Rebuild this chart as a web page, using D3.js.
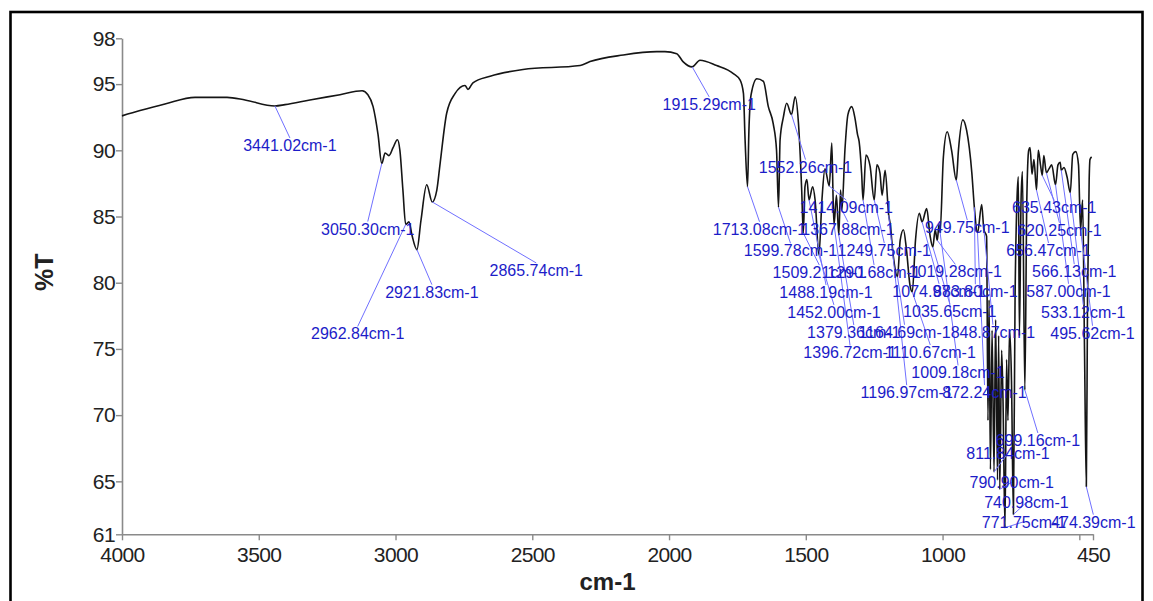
<!DOCTYPE html>
<html>
<head>
<meta charset="utf-8">
<script src="https://cdn.jsdelivr.net/npm/d3@7"></script>
<style>
  body { margin: 0; background: #fff; }
  svg { display: block; font-family: "Liberation Sans", Arial, sans-serif; }
  .tick text { fill: #222; font-size: 21px; letter-spacing: -0.6px; }
  .peak-label { fill: #1c1cc8; font-size: 16px; }
</style>
</head>
<body>
<div id="canvas"></div>
<script>
// spectrum (wavenumber cm-1 / %T)
const wavenumbers = [4000, 3934, 3843, 3733, 3616, 3550, 3441.02, 3404, 3313, 3203, 3122, 3101, 3082, 3064,
  3050.30, 3038, 3024, 3009, 2993, 2984, 2973, 2962.84, 2951, 2940, 2921.83, 2907, 2886, 2865.74, 2849, 2837,
  2813, 2782, 2746, 2735, 2717, 2654, 2534, 2325, 2289, 2167, 2045, 2015, 1972, 1949, 1915.29, 1887, 1826,
  1765, 1740, 1728, 1722, 1713.08, 1708, 1700, 1679, 1655, 1637, 1619, 1607, 1599.78, 1594, 1582, 1570,
  1552.26, 1539, 1527, 1515, 1509.21, 1503, 1496, 1488.19, 1475, 1466, 1452.00, 1441, 1430, 1414.09, 1405,
  1400, 1396.72, 1388, 1379.36, 1373, 1367.88, 1357, 1346, 1332, 1320, 1311, 1305, 1296, 1290.68, 1280, 1265,
  1249.75, 1240, 1229, 1221, 1210, 1196.97, 1192, 1180, 1164.69, 1155, 1143, 1132, 1119, 1110.67, 1099, 1085,
  1074.97, 1058, 1046, 1035.65, 1027, 1019.28, 1013, 1009.18, 997, 983, 967, 949.75, 942, 926, 912, 893,
  883.80, 872.24, 857, 848.87, 839, 834, 830, 825, 819, 811.84, 806, 799, 795, 790.90, 784, 779, 771.75, 766,
  761, 755, 748, 740.98, 735, 728, 723, 719, 713, 708, 699.16, 692, 685, 680, 673, 666, 656.47, 650, 642,
  635.43, 630, 620.25, 611, 601, 587.00, 578, 570, 566.13, 556, 545, 533.12, 524, 513, 503, 495.62, 488, 481,
  474.39, 470, 464, 461, 455];
const transmittance = [92.6, 93.0, 93.5, 94.0, 94.0, 93.8, 93.35, 93.45, 93.8, 94.2, 94.5, 94.2, 93.3, 91.2,
  89.0, 89.8, 89.6, 90.2, 90.8, 90.0, 87.0, 84.4, 84.6, 83.6, 82.5, 84.7, 87.4, 86.1, 87.0, 89.0,
  92.8, 94.3, 94.9, 94.6, 95.1, 95.6, 96.1, 96.4, 96.7, 97.2, 97.45, 97.45, 97.3, 96.7, 96.3, 96.8, 96.4,
  95.8, 95.3, 94.3, 90.8, 87.25, 91.5, 94.2, 95.4, 95.2, 93.3, 92.0, 90.0, 85.7, 90.8, 92.5, 93.55,
  92.7, 94.05, 92.1, 87.0, 83.75, 87.25, 87.8, 86.25, 87.25, 86.25, 82.1, 86.25, 88.6, 87.3, 90.55,
  86.25, 84.4, 86.6, 83.6, 87.0, 85.5, 90.0, 92.7, 93.3, 92.4, 91.2, 90.65, 88.3, 86.25, 89.65, 88.8,
  86.25, 88.9, 88.3, 86.6, 88.5, 85.1, 84.5, 82.0, 80.45, 83.2, 84.0, 82.5, 79.8, 79.3, 83.2, 85.25,
  84.6, 85.6, 83.6, 82.7, 84.0, 83.2, 84.4, 83.8, 89.5, 91.4, 90.0, 87.75, 90.0, 92.3, 91.5, 88.3,
  85.7, 83.75, 85.9, 84.0, 83.5, 69.6, 78.7, 65.9, 76.4, 65.7, 77.2, 65.1, 76.0, 64.4, 74.9, 71.1, 61.5, 74.2,
  69.6, 76.4, 72.6, 62.5, 78.7, 86.25, 88.0, 76.0, 86.25, 88.4, 71.9, 86.25, 90.0, 90.2, 88.2, 89.3, 87.0, 90.0, 88.9,
  88.1, 89.6, 88.3, 88.6, 88.9, 87.4, 88.9, 89.1, 88.5, 88.7, 88.0, 86.8, 89.7, 89.9, 88.9, 84.0, 86.25, 74.9,
  64.6, 78.7, 87.8, 89.3, 89.5];

// labelled peaks
const peakWavenumbers = [3441.02, 3050.30, 2962.84, 2921.83, 2865.74, 1915.29, 1713.08, 1599.78, 1552.26,
  1509.21, 1488.19, 1452.00, 1414.09, 1396.72, 1379.36, 1367.88, 1290.68, 1249.75, 1196.97, 1164.69,
  1110.67, 1074.97, 1035.65, 1019.28, 1009.18, 949.75, 883.80, 872.24, 848.87, 811.84, 790.90, 771.75,
  740.98, 699.16, 656.47, 635.43, 620.25, 587.00, 566.13, 533.12, 495.62, 474.39];

// label placement relative to the peak (px): [dx to text centre, dy to baseline]
const noteOffsets = [[15, 45], [-14, 71], [-48, 115], [15, 48], [104, 74], [17, 43], [12, 48], [12, 49], [14, 58],
  [16, 45], [17, 98], [15, 63], [17, 27], [16, 134], [15, 103], [6, 25], [11, 78], [10, 56], [18, 183], [7, 61],
  [18, 66], [17, 75], [17, 70], [18, 37], [18, 146], [11, 53], [1, 90], [7, 165], [9, 108], [14, -13], [12, -1], [19, 0],
  [13, -6], [13, 56], [12, 66], [12, 38], [13, 63], [13, 112], [13, 107], [13, 125], [12, 109], [7, 41]];

const xTicks = [4000, 3500, 3000, 2500, 2000, 1500, 1000, 500, 450];
const yTicks = [61, 65, 70, 75, 80, 85, 90, 95, 98.46];

const width = 1153, height = 601;
const margin = {left: 122, right: 60, top: 38.3, bottom: 66.7};

let svg = d3.select("#canvas").append("svg").attr("width", width).attr("height", height);
svg.append("rect").attr("x", 10.5).attr("y", 12).attr("width", 1132).attr("height", 620)
    .attr("fill", "none").attr("stroke", "#000").attr("stroke-width", 2.6);

var x = d3.scaleLinear().domain([4000, 450]).range([margin.left, width - margin.right]);
var y = d3.scaleLinear().domain([61, 98.46]).range([height - margin.bottom, margin.top]);

let xAxis = svg.append("g")
    .attr("transform", "translate(0," + y(61) + ")")
    .call(d3.axisBottom(x).tickValues(xTicks).tickSize(6).tickSizeOuter(0).tickPadding(7)
        .tickFormat(d => d == 500 ? "" : d));
let yAxis = svg.append("g")
    .attr("transform", "translate(" + x(4000) + ",0)")
    .call(d3.axisLeft(y).tickValues(yTicks).tickSize(6).tickSizeOuter(0).tickPadding(1)
        .tickFormat(d => Math.round(d)));
[xAxis, yAxis].forEach(a => {
    a.select(".domain").attr("stroke", "#8a8a8a").attr("stroke-width", 1.6);
    a.selectAll(".tick line").attr("stroke", "#8a8a8a").attr("stroke-width", 1.4);
});

svg.append("text")
    .attr("text-anchor", "middle")
    .attr("transform", "translate(53," + y(80.8) + ") rotate(-90)")
    .attr("font-size", 25).attr("font-weight", "bold").attr("fill", "#222")
    .text("%T");
svg.append("text")
    .attr("text-anchor", "middle")
    .attr("x", (x(4000) + x(450)) / 2)
    .attr("y", 590)
    .attr("font-size", 24).attr("font-weight", "bold").attr("fill", "#222")
    .text("cm-1");

const spectrum = wavenumbers.map((w, i) => ({w: w, t: transmittance[i]}));
const line = d3.line().x(d => x(d.w)).y(d => y(d.t)).curve(d3.curveMonotoneX);
svg.append("path").datum(spectrum)
    .attr("d", line)
    .attr("fill", "none").attr("stroke", "#151515").attr("stroke-width", 1.6)
    .attr("stroke-linejoin", "round");

// peak annotations
const tAt = new Map(spectrum.map(d => [d.w, d.t]));
let notes = svg.append("g").attr("class", "annotation-group");
peakWavenumbers.forEach((w, i) => {
    let px = x(w), py = y(tAt.get(w));
    let lx = px + noteOffsets[i][0], ly = py + noteOffsets[i][1];
    let ey = noteOffsets[i][1] >= 14 ? ly - 13 : ly - 6;
    notes.append("line")
        .attr("x1", px).attr("y1", py).attr("x2", lx).attr("y2", ey)
        .attr("stroke", "#7070ff").attr("stroke-width", 1);
});
peakWavenumbers.forEach((w, i) => {
    let px = x(w), py = y(tAt.get(w));
    notes.append("text")
        .attr("class", "peak-label")
        .attr("text-anchor", "middle")
        .attr("x", px + noteOffsets[i][0])
        .attr("y", py + noteOffsets[i][1])
        .text(w.toFixed(2) + "cm-1");
});
</script>
</body>
</html>
